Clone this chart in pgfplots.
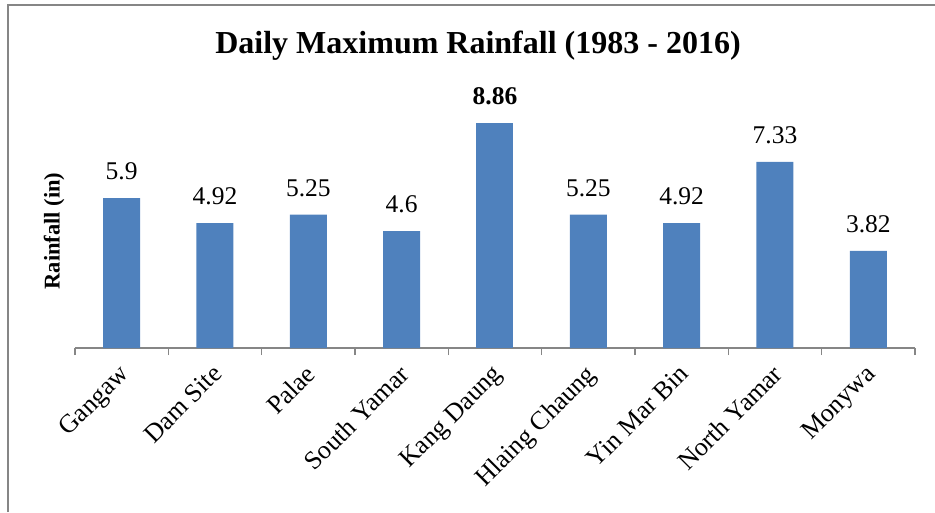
\documentclass[border=0pt]{standalone}
\usepackage{pgfplots}
\pgfplotsset{compat=1.18}
\usepackage{fontspec}
\setmainfont{Liberation Serif}
\definecolor{barblue}{HTML}{4F81BD}
\definecolor{axgray}{HTML}{868686}
\begin{document}
\begin{tikzpicture}
\useasboundingbox (0pt,0pt) rectangle (935pt,512pt);
\draw[axgray, line width=2pt] (8pt,0pt) -- (8pt,507pt) -- (935pt,507pt);
\node[font=\bfseries\fontsize{32}{38}\selectfont, anchor=base] at (478pt,458pt) {Daily Maximum Rainfall (1983 - 2016)};
\node[font=\bfseries\fontsize{22.5}{26}\selectfont, rotate=90, anchor=center] at (54pt,281pt) {Rainfall (in)};
\begin{axis}[
  at={(75pt,164pt)}, anchor=south west,
  scale only axis, width=840pt, height=254pt,
  xmin=-0.5, xmax=8.5, ymin=0, ymax=10,
  axis x line*=bottom, axis y line=none,
  axis line style={axgray, line width=1.5pt},
  clip=false,
  xtick={0,1,2,3,4,5,6,7,8},
  xticklabels={Gangaw,Dam Site,Palae,South Yamar,Kang Daung,Hlaing Chaung,Yin Mar Bin,North Yamar,Monywa},
  major tick length=0pt,
  xticklabel style={font=\fontsize{26}{30}\selectfont, xshift=-4pt, yshift=-15pt, rotate=45, anchor=north east, inner sep=0pt},
  extra x ticks={-0.5,0.5,1.5,2.5,3.5,4.5,5.5,6.5,7.5,8.5},
  extra x tick labels={},
  extra x tick style={major tick length=7pt, xtick align=outside, tick style={axgray, line width=1.5pt}},
  ymajorticks=false,
  /pgf/number format/assume math mode=true,
  ybar,
]
\addplot[ybar, bar width=37pt, bar shift=0pt, fill=barblue, draw=none,
  nodes near coords, point meta=y,
  every node near coord/.style={font=\fontsize{25.5}{30}\selectfont, anchor=south, inner sep=0pt, yshift=18pt, /pgf/number format/assume math mode=true}]
  coordinates {(0,5.9) (1,4.92) (2,5.25) (3,4.6) (5,5.25) (6,4.92) (7,7.33) (8,3.82)};
\addplot[ybar, bar width=37pt, bar shift=0pt, fill=barblue, draw=none,
  nodes near coords, point meta=y,
  every node near coord/.style={font=\bfseries\fontsize{25.5}{30}\selectfont, anchor=south, inner sep=0pt, yshift=18pt, /pgf/number format/assume math mode=true}]
  coordinates {(4,8.86)};
\end{axis}
\end{tikzpicture}
\end{document}
